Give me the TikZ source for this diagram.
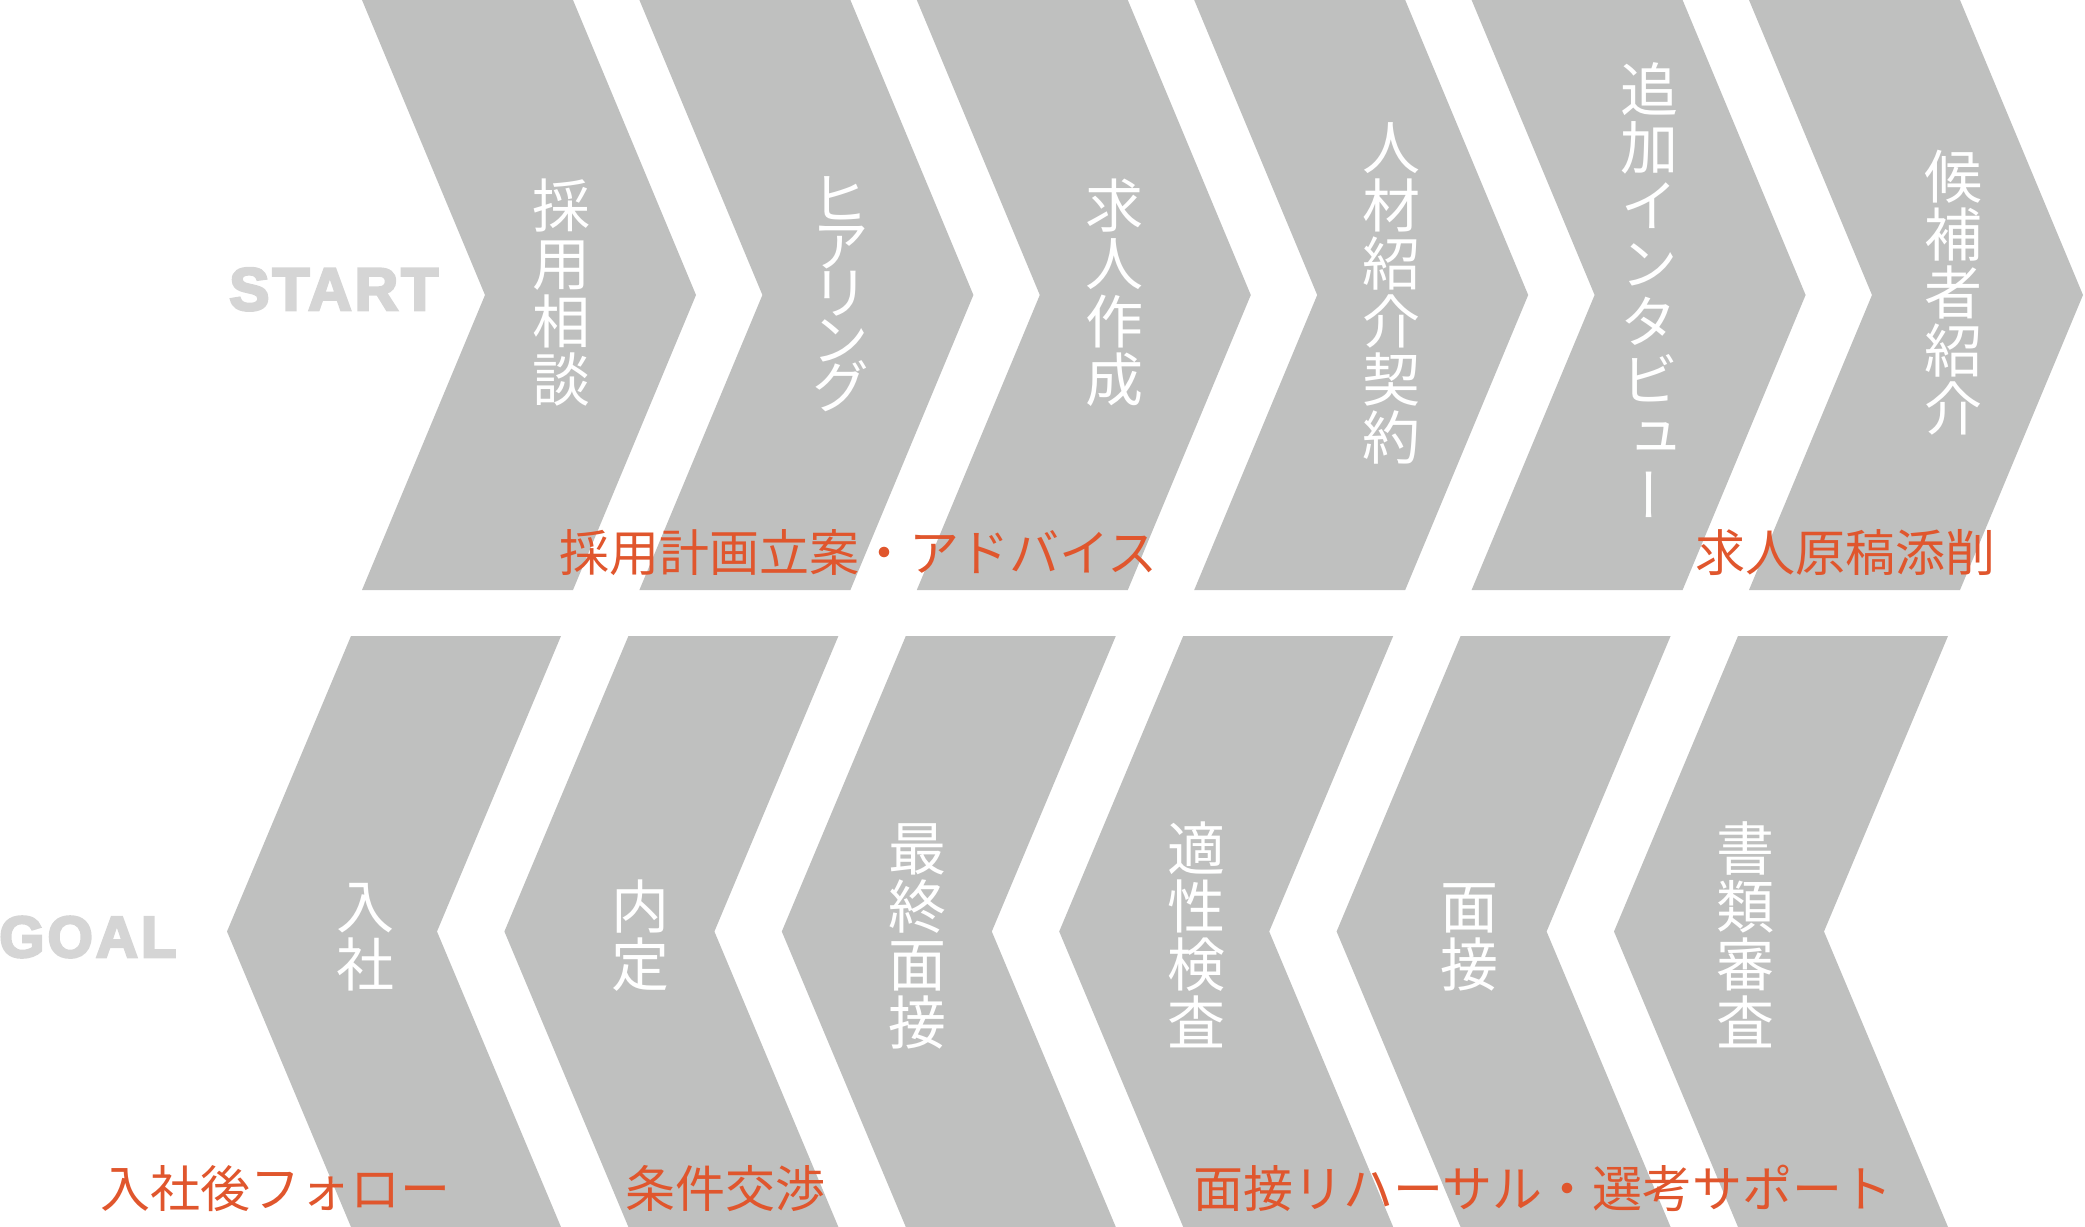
\documentclass[tikz,border=0pt]{standalone}
\usepackage{fontspec}
\setmainfont{Liberation Sans}
\newfontfamily\cjk{Noto Sans CJK JP}
\newfontfamily\cjkv[RawFeature=+vert]{Noto Sans CJK JP}
\newfontfamily\heavy[FakeBold=4.5,LetterSpace=5.5]{Liberation Sans Bold}
\definecolor{chev}{HTML}{BFC0BF}
\definecolor{accent}{HTML}{E0562D}
\definecolor{lbl}{HTML}{D5D5D5}
\tikzset{
  chevron/.style={fill=chev, draw=none},
  vchar/.style={text=white, font=\cjkv\fontsize{29}{29}\selectfont, inner sep=0pt, anchor=base},
  note/.style={text=accent, font=\cjk\fontsize{25}{25}\selectfont, inner sep=0pt, anchor=base west},
  marker/.style={text=lbl, font=\heavy\fontsize{30}{30}\selectfont, inner sep=0pt, anchor=base west},
}
% #1 name, #2 x, #3 y centre, #4 count, #5 pitch, #6 characters
\newcommand\vlabel[6]{%
  \foreach \ch [count=\k] in {#6}{%
    \node[vchar] (#1-\k) at (#2,{#3+(\k-(#4+1)/2)*#5+22}) {\ch};
  }%
}
\begin{document}
\begin{tikzpicture}[x=0.5pt,y=-0.5pt]
\useasboundingbox (0,0) rectangle (2085,1227);
% top row (pointing right)
\foreach \i in {0,...,5}{
  \pgfmathsetmacro\xo{362+277.4*\i}
  \fill[chevron] (\xo,0) -- (\xo+211,0) -- (\xo+334,295) -- (\xo+211,590)
    -- (\xo,590) -- (\xo+123,295) -- cycle;
}
% bottom row (pointing left)
\foreach \i in {0,...,5}{
  \pgfmathsetmacro\xo{351+277.4*\i}
  \fill[chevron] (\xo,636) -- (\xo+210,636) -- (\xo+86,931.5) -- (\xo+210,1227)
    -- (\xo,1227) -- (\xo-124,931.5) -- cycle;
}
% START / GOAL
\node[marker] (start) at (229,310) {START};
\node[marker, font=\heavy\fontsize{29}{29}\selectfont] (goal) at (-1,957) {GOAL};
% top labels
\vlabel{t1}{561}{292}{4}{58}{採,用,相,談}
\vlabel{t2}{840}{292}{5}{47}{ヒ,ア,リ,ン,グ}
\vlabel{t3}{1114}{292}{4}{58}{求,人,作,成}
\vlabel{t4}{1391}{292}{6}{58}{人,材,紹,介,契,約}
\vlabel{t5}{1649}{292}{8}{58}{追,加,イ,ン,タ,ビ,ュ,ー}
\vlabel{t6}{1953}{292}{5}{58}{候,補,者,紹,介}
% bottom labels
\vlabel{b1}{365}{935}{2}{58}{入,社}
\vlabel{b2}{640}{935}{2}{58}{内,定}
\vlabel{b3}{917}{935}{4}{58}{最,終,面,接}
\vlabel{b4}{1196}{935}{4}{58}{適,性,検,査}
\vlabel{b5}{1469}{935}{2}{58}{面,接}
\vlabel{b6}{1745}{935}{4}{58}{書,類,審,査}
% orange notes
\node[note] (n1) at (559,571) {採用計画立案・アドバイス};
\node[note] (n2) at (1695,571) {求人原稿添削};
\node[note] (n3) at (100,1207) {入社後フォロー};
\node[note] (n4) at (625,1207) {条件交渉};
\node[note] (n5) at (1193,1207) {面接リハーサル・選考サポート};
\end{tikzpicture}
\end{document}
